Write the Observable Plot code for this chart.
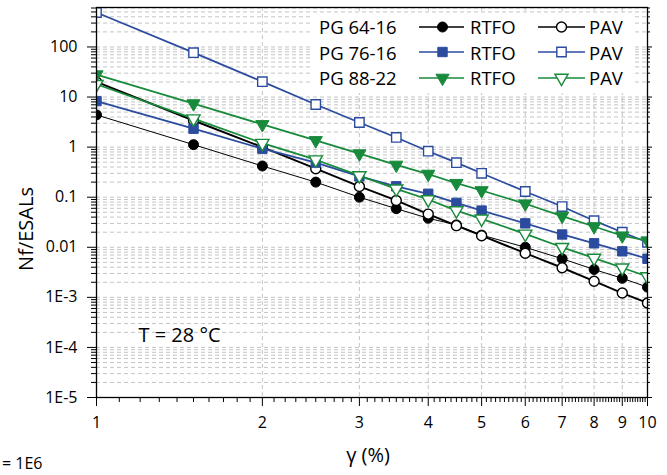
<!DOCTYPE html>
<html>
<head>
<meta charset="utf-8">
<script src="https://cdn.jsdelivr.net/npm/d3@7"></script>
<script src="https://cdn.jsdelivr.net/npm/@observablehq/plot@0.6"></script>
<style>
  html, body { margin: 0; padding: 0; background: #fff; }
  #chart { width: 667px; height: 475px; position: relative; }
</style>
</head>
<body>
<div id="chart"></div>
<script>
// ---- data ----
const gamma = [1, 1.5, 2, 2.5, 3, 3.5, 4, 4.5, 5, 6, 7, 8, 9, 10];
const pg6416_rtfo = [4.4, 1.12, 0.42, 0.2, 0.1, 0.059, 0.038, 0.028, 0.0175, 0.010, 0.0059, 0.0036, 0.0024, 0.0016];
const pg6416_pav  = [20, 3.4, 1.0, 0.37, 0.164, 0.086, 0.046, 0.027, 0.017, 0.0076, 0.0039, 0.0021, 0.00122, 0.00077];
const pg7616_rtfo = [8.3, 2.33, 0.93, 0.49, 0.26, 0.165, 0.117, 0.077, 0.054, 0.030, 0.018, 0.012, 0.0083, 0.0059];
const pg7616_pav  = [487, 77, 20.3, 7.1, 3.1, 1.56, 0.83, 0.49, 0.30, 0.13, 0.065, 0.034, 0.020, 0.0126];
const pg8822_rtfo = [28, 7.4, 2.84, 1.36, 0.74, 0.44, 0.29, 0.19, 0.136, 0.074, 0.042, 0.026, 0.017, 0.0135];
const pg8822_pav  = [18, 3.7, 1.2, 0.56, 0.27, 0.147, 0.090, 0.054, 0.037, 0.0185, 0.010, 0.0061, 0.0039, 0.0026];

const grades = ["PG 64-16", "PG 76-16", "PG 88-22"];
const conditions = ["RTFO", "PAV"];
const xTicks = [1, 2, 3, 4, 5, 6, 7, 8, 9, 10];
const xGrid = [2, 3, 4, 5, 6, 7, 8, 9];
const yTicks = [1e-5, 1e-4, 1e-3, 0.01, 0.1, 1, 10, 100];
const yTickLabels = ["1E-5", "1E-4", "1E-3", "0.01", "0.1", "1", "10", "100"];
const xLabel = "γ (%)";
const yLabel = "Nf/ESALs";
const note = "T = 28 °C";
const footnote = "= 1E6";

// ---- styles ----
const BLACK = "#000000", BLUE = "#2B4C9E", GREEN = "#188A3B";
const series = [
  {grade: 0, cond: 0, values: pg6416_rtfo, color: BLACK, symbol: "circle",   filled: true,  r: 5,   rotate: 0,   lw: 1.0},
  {grade: 0, cond: 1, values: pg6416_pav,  color: BLACK, symbol: "circle",   filled: false, r: 5,   rotate: 0,   lw: 1.9},
  {grade: 1, cond: 0, values: pg7616_rtfo, color: BLUE,  symbol: "square",   filled: true,  r: 5.3, rotate: 0,   lw: 1.8},
  {grade: 1, cond: 1, values: pg7616_pav,  color: BLUE,  symbol: "square",   filled: false, r: 5.3, rotate: 0,   lw: 1.7},
  {grade: 2, cond: 0, values: pg8822_rtfo, color: GREEN, symbol: "triangle", filled: true,  r: 4.9, rotate: 180, lw: 1.8},
  {grade: 2, cond: 1, values: pg8822_pav,  color: GREEN, symbol: "triangle", filled: false, r: 4.9, rotate: 180, lw: 1.8}
];

// minor ticks / grid values
const xMinor = [];
for (let k = 1; k < 10; k++) for (let j = 1; j < 10; j++) xMinor.push(+(k + j / 10).toFixed(1));
const yMinor = [];
for (let e = -5; e <= 2; e++) for (let m = 2; m <= 9; m++) { const v = m * Math.pow(10, e); if (v <= 614) yMinor.push(v); }
const yGridAll = yTicks.concat(yMinor);

const FONT = "'Open Sans', 'Noto Sans', sans-serif";
const gridStyle = {stroke: "#c4c4c4", strokeWidth: 1, strokeDasharray: "4,3", strokeOpacity: 1};

const marks = [
  Plot.ruleY(yGridAll, {y: d => d, ...gridStyle}),
  Plot.ruleX(xGrid, {x: d => d, ...gridStyle}),
  Plot.axisX({ticks: xMinor, tickSize: 5, tickFormat: () => "", label: null, stroke: "#000"}),
  Plot.axisX({ticks: xTicks, tickSize: 9, tickPadding: 10, tickFormat: d => String(d), label: null, stroke: "#000", fontSize: 16, fill: "#000"}),
  Plot.axisY({ticks: yMinor, tickSize: 5, tickFormat: () => "", label: null, stroke: "#000"}),
  Plot.axisY({ticks: yTicks, tickSize: 9, tickPadding: 10, tickFormat: d => yTickLabels[yTicks.indexOf(d)], label: null, stroke: "#000", fontSize: 16, fill: "#000"}),
  Plot.axisY({anchor: "right", ticks: yMinor, tickSize: 2, tickFormat: () => "", label: null, stroke: "#000"}),
  Plot.axisY({anchor: "right", ticks: yTicks, tickSize: 4, tickFormat: () => "", label: null, stroke: "#000"})
];

for (const s of series) {
  const data = gamma.map((g, i) => ({x: g, y: s.values[i]}));
  marks.push(Plot.line(data, {x: "x", y: "y", stroke: s.color, strokeWidth: s.lw, clip: true}));
  marks.push(Plot.dot(data, {
    x: "x", y: "y", symbol: s.symbol, r: s.r, rotate: s.rotate,
    fill: s.filled ? s.color : "#fff", stroke: s.color, strokeWidth: s.filled ? 1 : 1.4, clip: true
  }));
}
marks.push(Plot.frame({stroke: "#000", strokeWidth: 1.3}));
marks.push(Plot.text([note], {text: d => d, frameAnchor: "bottom-left", dx: 42, dy: -56, fontSize: 20, textAnchor: "start", lineAnchor: "bottom", fill: "#000"}));

const chart = Plot.plot({
  width: 667,
  height: 475,
  marginLeft: 96,
  marginRight: 20,
  marginTop: 7,
  marginBottom: 78,
  x: {type: "log", domain: [1, 10]},
  y: {type: "log", domain: [1e-5, 614]},
  style: {fontFamily: FONT, fontSize: "16px", background: "#fff", color: "#000", overflow: "visible"},
  marks
});

document.getElementById("chart").appendChild(chart);

// ---- axis titles, footnote, legend (decorations) ----
const svg = d3.select(chart);
svg.append("text").attr("transform", "translate(25,229) rotate(-90)")
  .attr("text-anchor", "middle").attr("dominant-baseline", "central")
  .style("font-family", FONT).style("font-size", "20px").attr("fill", "#000").text(yLabel);
svg.append("text").attr("x", 368).attr("y", 462).attr("text-anchor", "middle")
  .style("font-family", FONT).style("font-size", "20px").attr("fill", "#000").text(xLabel);
svg.append("text").attr("x", 2).attr("y", 469).attr("text-anchor", "start")
  .style("font-family", FONT).style("font-size", "16px").attr("fill", "#000").text(footnote);

const lg = svg.append("g").attr("text-anchor", "start");
lg.append("rect").attr("x", 312).attr("y", 13).attr("width", 320).attr("height", 80).attr("fill", "#fff");
const rowY = [34, 59.5, 85];
const symY = [27, 52, 78];
const lineX = [[419, 464], [538, 585]];
const symX = [442.5, 561.5];
const textX = [470, 589];
for (const s of series) {
  const row = s.grade, col = s.cond;
  if (col === 0) {
    lg.append("text").attr("x", 319).attr("y", rowY[row]).attr("text-anchor", "start")
      .style("font-family", FONT).style("font-size", "18.5px").attr("fill", "#000").text(grades[row]);
  }
  lg.append("text").attr("x", textX[col]).attr("y", rowY[row]).attr("text-anchor", "start")
    .style("font-family", FONT).style("font-size", "18.5px").attr("fill", "#000").text(conditions[col]);
  lg.append("line").attr("x1", lineX[col][0]).attr("x2", lineX[col][1]).attr("y1", symY[row]).attr("y2", symY[row])
    .attr("stroke", s.color).attr("stroke-width", 1.7);
  const sym = {circle: d3.symbolCircle, square: d3.symbolSquare, triangle: d3.symbolTriangle}[s.symbol];
  lg.append("path").attr("d", d3.symbol(sym, Math.PI * s.r * s.r)())
    .attr("transform", `translate(${symX[col]},${symY[row]}) rotate(${s.rotate})`)
    .attr("fill", s.filled ? s.color : "#fff").attr("stroke", s.color).attr("stroke-width", s.filled ? 1 : 1.4);
}
</script>
</body>
</html>
